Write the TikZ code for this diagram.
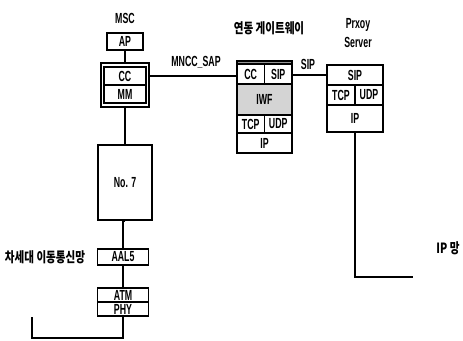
\documentclass[tikz,border=0pt]{standalone}
\usepackage{fontspec}
\setmainfont{Liberation Sans}[FakeStretch=0.6]
\newfontfamily\krfont{Noto Sans CJK KR}[FakeStretch=0.75]
\usepackage{tikz}
\usetikzlibrary{positioning}
\newcommand{\pxu}{0.03cm}
\definecolor{iwfGray}{RGB}{212,212,212}
\definecolor{stripGray}{RGB}{150,150,150}

\begin{document}
\begin{tikzpicture}[x=\pxu, y=-\pxu,
    layer/.style={draw, line width=1.3pt, fill=white, inner sep=0pt,
      font=\fontsize{12.5}{14}\selectfont\bfseries},
    sz/.style 2 args={minimum width=#1*\pxu, minimum height=#2*\pxu},
    wire/.style={line width=1.7pt},
    lab/.style={inner sep=0pt, font=\fontsize{12.5}{15.5}\selectfont\bfseries},
    krlab/.style={inner sep=0pt, font=\krfont\fontsize{12}{14}\selectfont\bfseries}]

    \useasboundingbox (0,0) rectangle (463,341);

    % MSC stack
    \node[lab] (msc) at (125,18) {MSC};
    \node[layer, sz={36}{17}] (ap) at (125,41.5) {AP};
    \node[layer, sz={48}{44}] (mscbox) at (125,85) {};
    \node[layer, sz={42}{18}] (cc) at (125,76) {CC};
    \node[layer, sz={42}{18}] (mm) at (125,94) {MM};
    \node[layer, sz={54}{75}] (no7) at (125,182.5) {No. 7};
    \node[layer, sz={51}{16}] (aal5) at (123,257) {AAL5};
    \node[layer, sz={51}{14}] (atm) at (123,295) {ATM};
    \node[layer, sz={51}{14}] (phy) at (123,309) {PHY};
    \node[krlab] (mobnet) at (45,257) {차세대 이동통신망};

    \draw[wire] (ap.south) -- (ap.south |- mscbox.north);
    \draw[wire] (mscbox.south) -- (mscbox.south |- no7.north);
    \draw[wire] (no7.south) -- (no7.south -| aal5) -- (aal5.north);
    \draw[wire] (aal5.south) -- (atm.north);
    \coordinate (mobEnd) at (32,317);
    \draw[wire] (phy.south) -- ++(0,21) -| (mobEnd);

    % interworking gateway
    \node[krlab] (gwtitle) at (269,28) {연동 게이트웨이};
    \node[layer, sz={55}{92}, fill=stripGray] (gw) at (264.5,107) {};
    \node[layer, sz={27.5}{20}] (gcc) at (250.75,74) {CC};
    \node[layer, sz={27.5}{20}] (gsip) at (278.25,74) {SIP};
    \node[layer, sz={55}{31}, fill=iwfGray] (iwf) at (264.5,99.5) {IWF};
    \node[layer, sz={27.5}{18}] (gtcp) at (250.75,124) {TCP};
    \node[layer, sz={27.5}{18}] (gudp) at (278.25,124) {UDP};
    \node[layer, sz={55}{20}] (gip) at (264.5,143) {IP};

    \node[lab] (mncc) at (196,62) {MNCC\_SAP};
    \draw[wire] (mscbox.east |- cc) -- (gw.west |- cc);

    % proxy server
    \node[lab, align=center] (proxy) at (358,33) {Prxoy\\Server};
    \node[layer, sz={56}{20}] (psip) at (355,75) {SIP};
    \node[layer, sz={28}{20}] (ptcp) at (341,95) {TCP};
    \node[layer, sz={28}{20}] (pudp) at (369,95) {UDP};
    \node[layer, sz={56}{27}] (pip) at (355,118.5) {IP};

    \node[lab] (sipl) at (308,64) {SIP};
    \draw[wire] (gw.east |- psip) -- (psip.west);

    \coordinate (ipEnd) at (413,277);
    \draw[wire] (pip.south) |- (ipEnd);
    \node[krlab] (ipnet) at (448,248) {IP 망};

\end{tikzpicture}
\end{document}
